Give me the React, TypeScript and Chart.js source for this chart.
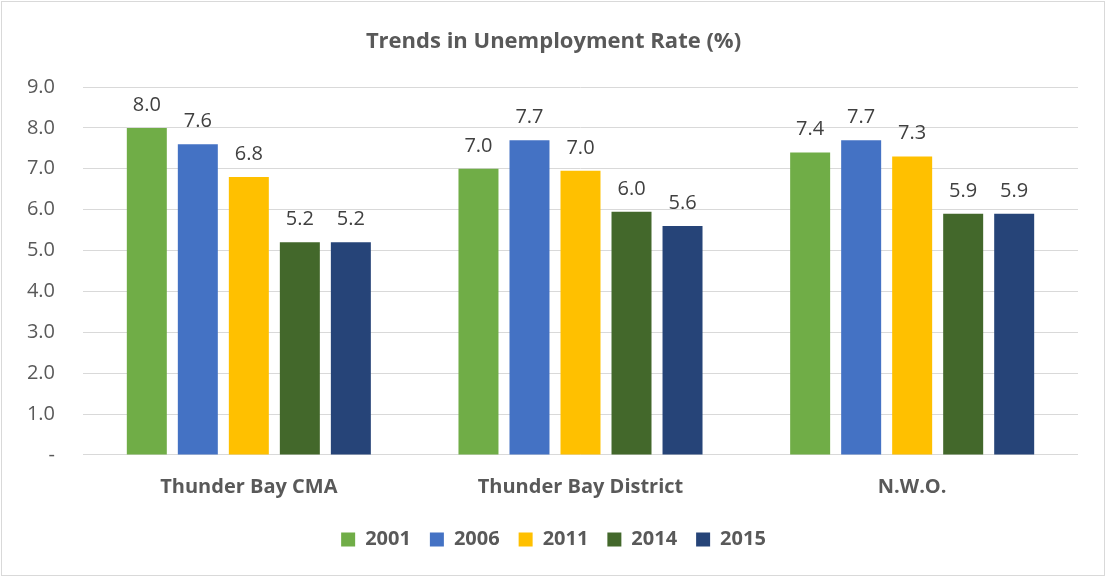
import React, { useEffect, useRef } from 'react';
import { Chart, registerables } from 'chart.js';

Chart.register(...registerables);

const title = 'Trends in Unemployment Rate (%)';
const categories = ['Thunder Bay CMA', 'Thunder Bay District', 'N.W.O.'];
const seriesNames = ['2001', '2006', '2011', '2014', '2015'];
const values2001 = [8.0, 7.0, 7.4];
const values2006 = [7.6, 7.7, 7.7];
const values2011 = [6.8, 6.95, 7.3];
const values2014 = [5.2, 5.95, 5.9];
const values2015 = [5.2, 5.6, 5.9];
const seriesColors = ['#70AD47', '#4472C4', '#FFC000', '#43682B', '#264478'];
const yMin = 0;
const yMax = 9;
const yStep = 1;

const FONT = "'Open Sans', 'Noto Sans', sans-serif";
const TEXT = '#595959';

const dataLabelPlugin = {
  id: 'dataLabels',
  afterDatasetsDraw(chart: any) {
    const ctx = chart.ctx;
    ctx.save();
    ctx.font = `20px ${FONT}`;
    ctx.fillStyle = '#404040';
    ctx.textAlign = 'center';
    ctx.textBaseline = 'alphabetic';
    chart.data.datasets.forEach((ds: any, i: number) => {
      const meta = chart.getDatasetMeta(i);
      meta.data.forEach((el: any, j: number) => {
        const v = ds.data[j] as number;
        const txt = (Math.round(v * 10 + 1e-9) / 10).toFixed(1);
        ctx.fillText(txt, el.x, el.y - 17);
      });
    });
    ctx.restore();
  },
};

export default function App() {
  const canvasRef = useRef<HTMLCanvasElement | null>(null);

  useEffect(() => {
    if (!canvasRef.current) return;
    const seriesValues = [values2001, values2006, values2011, values2014, values2015];
    const chart = new Chart(canvasRef.current, {
      type: 'bar',
      data: {
        labels: categories,
        datasets: seriesNames.map((name, i) => ({
          label: name,
          data: seriesValues[i],
          backgroundColor: seriesColors[i],
          borderWidth: 0,
          categoryPercentage: 0.769,
          barPercentage: 0.784,
        })),
      },
      options: {
        animation: false,
        responsive: true,
        maintainAspectRatio: false,
        layout: { padding: { left: 0, right: 0, top: 0, bottom: 17.6 } },
        plugins: {
          title: {
            display: true,
            text: title,
            color: TEXT,
            font: { family: FONT, size: 22, weight: 'bold' },
            padding: { top: 29, bottom: 31.6 },
          },
          legend: {
            position: 'bottom',
            labels: {
              color: TEXT,
              font: { family: FONT, size: 20, weight: 'bold' },
              boxWidth: 14,
              boxHeight: 14,
              padding: 19,
            },
          },
          tooltip: { enabled: false },
        },
        scales: {
          x: {
            grid: { display: false, drawTicks: false },
            border: { display: false },
            ticks: {
              color: TEXT,
              font: { family: FONT, size: 20, weight: 'bold' },
              padding: 20,
            },
            afterFit: (scale: any) => {
              scale.height = 55.5;
            },
          },
          y: {
            min: yMin,
            max: yMax,
            grid: { color: '#D9D9D9', lineWidth: 1, drawTicks: false },
            border: { display: false },
            ticks: {
              stepSize: yStep,
              color: TEXT,
              font: { family: FONT, size: 20 },
              padding: 28,
              callback: (v: any) => (Number(v) === 0 ? '-' : Number(v).toFixed(1)),
            },
            afterFit: (scale: any) => {
              scale.width = 83;
            },
          },
          ySpacer: {
            type: 'linear',
            position: 'right',
            min: yMin,
            max: yMax,
            grid: { display: false, drawTicks: false },
            border: { display: false },
            ticks: { display: false },
            afterFit: (scale: any) => {
              scale.width = 29;
            },
          },
        },
      },
      plugins: [dataLabelPlugin],
    });
    return () => chart.destroy();
  }, []);

  return (
    <div style={{ position: 'absolute', left: 0, top: 0, width: 1107, height: 577, background: '#fff' }}>
      <div
        style={{
          position: 'absolute',
          left: 1,
          top: 1,
          width: 1104,
          height: 575,
          border: '1px solid #D9D9D9',
          boxSizing: 'border-box',
        }}
      />
      <div style={{ position: 'absolute', left: 0, top: 0, width: 1107, height: 577 }}>
        <canvas ref={canvasRef} />
      </div>
    </div>
  );
}
